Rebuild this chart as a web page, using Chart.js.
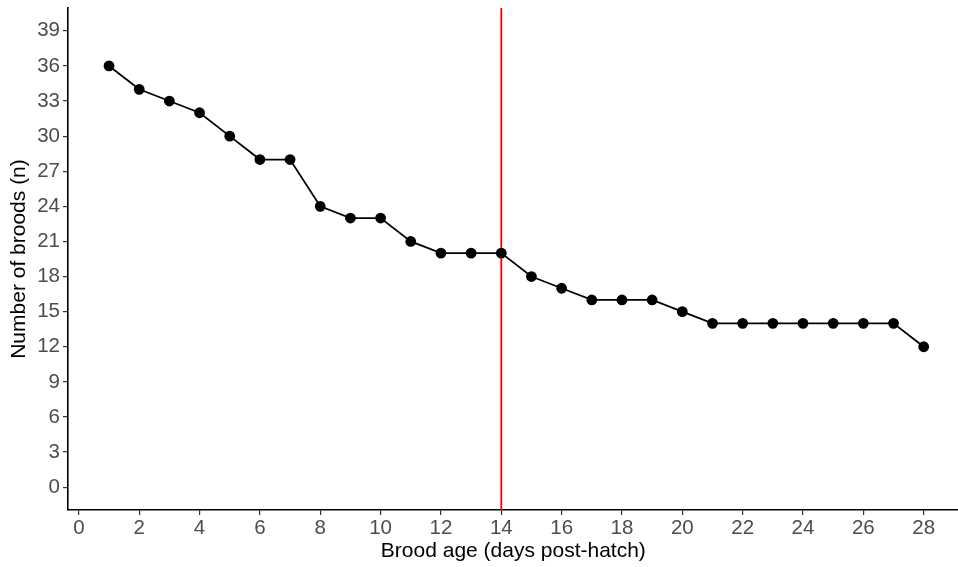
<!DOCTYPE html>
<html>
<head>
<meta charset="utf-8">
<script src="https://cdn.jsdelivr.net/npm/chart.js@4.4.0/dist/chart.umd.min.js"></script>
<style>
  html, body { margin: 0; padding: 0; background: #fff; overflow: hidden; }
  #wrap { width: 965px; height: 567px; }
</style>
</head>
<body>
<div id="wrap"><canvas id="myChart"></canvas></div>
<script>
// data
var broodAge = [1, 2, 3, 4, 5, 6, 7, 8, 9, 10, 11, 12, 13, 14, 15, 16, 17, 18, 19, 20, 21, 22, 23, 24, 25, 26, 27, 28];
var nBroods = [36, 34, 33, 32, 30, 28, 28, 24, 23, 23, 21, 20, 20, 20, 18, 17, 16, 16, 16, 15, 14, 14, 14, 14, 14, 14, 14, 12];
var xTicks = [0, 2, 4, 6, 8, 10, 12, 14, 16, 18, 20, 22, 24, 26, 28];
var yTicks = [0, 3, 6, 9, 12, 15, 18, 21, 24, 27, 30, 33, 36, 39];
var cutoffDay = 14;

var yMin = -1.95, yMax = 40.95;

var points = broodAge.map(function (a, i) { return { x: a, y: nBroods[i] }; });

var ctx = document.getElementById("myChart").getContext('2d');

var myChart = new Chart(ctx, {
  type: 'scatter',
  data: {
    datasets: [{
      data: points,
      showLine: true,
      borderColor: '#000',
      backgroundColor: '#000',
      borderWidth: 1.8,
      pointRadius: 4.5,
      pointHoverRadius: 4.5,
      order: 1
    }, {
      data: [{ x: cutoffDay, y: yMin }, { x: cutoffDay, y: yMax }],
      showLine: true,
      borderColor: '#ff0000',
      borderWidth: 1.8,
      pointRadius: 0,
      order: 2
    }]
  },
  options: {
    responsive: true,
    maintainAspectRatio: false,
    animation: false,
    layout: { padding: { top: 8, right: 0, left: 0, bottom: 0 } },
    plugins: {
      legend: { display: false },
      tooltip: { enabled: false }
    },
    scales: {
      x: {
        type: 'linear',
        min: -0.36,
        max: 29.16,
        afterBuildTicks: function (scale) {
          scale.ticks = xTicks.map(function (v) { return { value: v }; });
        },
        afterFit: function (scale) {
          scale.height = 57;
          scale.paddingLeft = 0;
          scale.paddingRight = 0;
        },
        grid: { display: true, drawOnChartArea: false, drawTicks: true, tickLength: 5, color: '#333', lineWidth: 1.2 },
        border: { display: true, color: '#000', width: 1.6 },
        ticks: {
          autoSkip: false,
          maxRotation: 0,
          padding: 1,
          color: '#4d4d4d',
          font: { family: 'Liberation Sans, Arial, sans-serif', size: 20.5 }
        },
        title: {
          display: true,
          text: 'Brood age (days post-hatch)',
          color: '#000',
          padding: { top: 0, bottom: 3 },
          font: { family: 'Liberation Sans, Arial, sans-serif', size: 21 }
        }
      },
      y: {
        type: 'linear',
        min: yMin,
        max: yMax,
        afterBuildTicks: function (scale) {
          scale.ticks = yTicks.map(function (v) { return { value: v }; });
        },
        afterFit: function (scale) {
          scale.width = 68;
          scale.paddingTop = 0;
          scale.paddingBottom = 0;
        },
        grid: { display: true, drawOnChartArea: false, drawTicks: true, tickLength: 5, color: '#333', lineWidth: 1.2 },
        border: { display: true, color: '#000', width: 1.6 },
        ticks: {
          autoSkip: false,
          padding: 3,
          color: '#4d4d4d',
          font: { family: 'Liberation Sans, Arial, sans-serif', size: 20.5 }
        },
        title: {
          display: true,
          text: 'Number of broods (n)',
          color: '#000',
          padding: { top: 7, bottom: 0 },
          font: { family: 'Liberation Sans, Arial, sans-serif', size: 21 }
        }
      }
    }
  }
});
</script>
</body>
</html>
